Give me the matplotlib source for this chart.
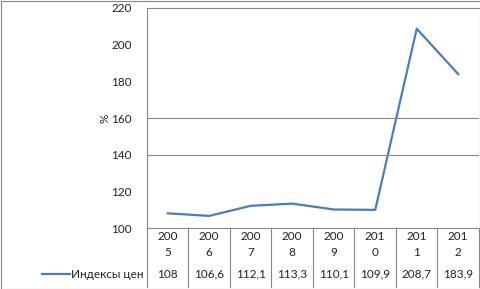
import matplotlib.pyplot as plt
from matplotlib.patches import Rectangle

years = ['2005', '2006', '2007', '2008', '2009', '2010', '2011', '2012']
values = [108, 106.6, 112.1, 113.3, 110.1, 109.9, 208.7, 183.9]
value_labels = ['108', '106,6', '112,1', '113,3', '110,1', '109,9', '208,7', '183,9']
series_name = 'Индексы цен'

plt.rcParams['font.family'] = ['Lato', 'DejaVu Sans']
W, H = 481, 289
fig = plt.figure(figsize=(W / 100, H / 100), dpi=100)

# plot area in pixels
x0, x1, y0, y1 = 147, 479, 8, 228
ax = fig.add_axes([x0 / W, 1 - y1 / H, (x1 - x0) / W, (y1 - y0) / H])

blue = '#4a7ebb'
grey = '#868686'
fs = 8.5

ax.plot(range(len(years)), values, color=blue, lw=1.6)
ax.set_xlim(-0.5, len(years) - 0.5)
ax.set_ylim(100, 220)
ax.set_yticks(range(100, 221, 20))
ax.set_xticks([])
ax.tick_params(axis='y', length=0, labelsize=fs, pad=11, colors='#222222')
for v in (140, 160):
    ax.axhline(v, color=grey, lw=0.8)
for s in ['left', 'top', 'bottom', 'right']:
    ax.spines[s].set_color(grey)
    ax.spines[s].set_linewidth(0.8)
ax.spines['right'].set_visible(False)
ax.set_ylabel('%', rotation=90, fontsize=fs, color='#222222')
ax.yaxis.set_label_coords(-0.11, 0.5)

# data table under the axes
col_w = (x1 - x0) / len(years)
bottom = 287
for i in range(len(years) + 1):
    x = x0 + i * col_w
    fig.add_artist(plt.Line2D([x / W, x / W], [1 - y1 / H, 1 - bottom / H], color=grey, lw=0.8))
for i, (yr, lab) in enumerate(zip(years, value_labels)):
    cx = (x0 + (i + 0.5) * col_w) / W
    fig.text(cx, 1 - 237 / H, yr[:3], ha='center', va='center', fontsize=fs, color='#222222')
    fig.text(cx, 1 - 253 / H, yr[3:], ha='center', va='center', fontsize=fs, color='#222222')
    fig.text(cx, 1 - 274 / H, lab, ha='center', va='center', fontsize=fs, color='#222222')

# legend key
fig.add_artist(plt.Line2D([42 / W, 70 / W], [1 - 274 / H, 1 - 274 / H], color=blue, lw=1.6))
fig.text(71 / W, 1 - 274 / H, series_name, ha='left', va='center', fontsize=fs, color='#222222')

# outer frame
fig.add_artist(Rectangle((0.5 / W, 0.5 / H), (W - 1) / W, (H - 1.5) / H, transform=fig.transFigure,
                         fill=False, edgecolor=grey, lw=0.8))

fig.savefig('out.png', dpi=100)
